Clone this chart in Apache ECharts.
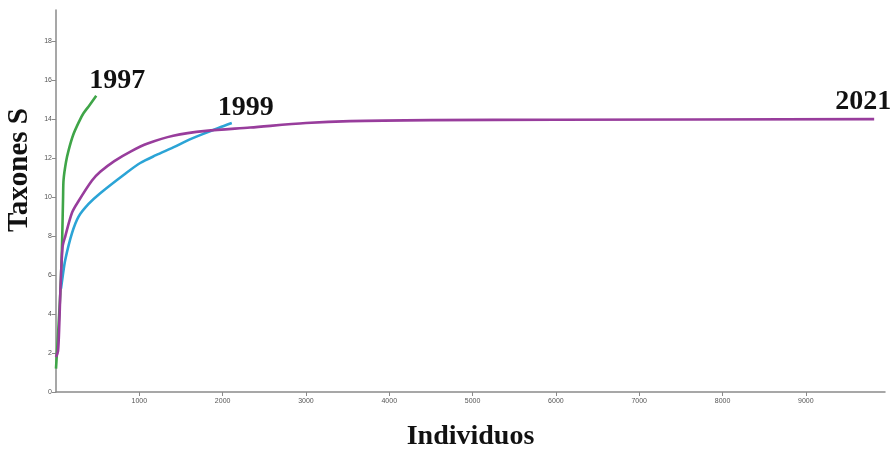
<!DOCTYPE html>
<html>
<head>
<meta charset="utf-8">
<script src="https://cdn.jsdelivr.net/npm/echarts@6/dist/echarts.min.js"></script>
<style>
html,body{margin:0;padding:0;background:#fff;}
#main{width:893px;height:452px;}
</style>
</head>
<body>
<div id="main"></div>
<script>
// curvas de acumulacion de taxones (individuos, taxones)
var x1997 = [0, 25, 52, 65, 75, 85, 91, 120, 151, 207, 280, 330, 400, 483];
var y1997 = [1.2, 3, 5.1, 6.5, 8, 10, 10.9, 11.8, 12.4, 13.2, 13.9, 14.3, 14.7, 15.2];

var x1999 = [60, 79, 112, 192, 271, 391, 531, 831, 1011, 1200, 1407, 1600, 1800, 1950, 2110];
var y1999 = [5.3, 5.9, 6.8, 8.15, 9.0, 9.65, 10.2, 11.2, 11.75, 12.15, 12.55, 12.95, 13.3, 13.55, 13.8];

var x2021 = [0, 24, 40, 52, 79, 112, 192, 271, 432, 531, 700, 900, 1100, 1407, 1800, 2330, 3000, 3530, 4500, 6000, 9820];
var y2021 = [1.8, 2.1, 3.5, 5.1, 7.45, 8.0, 9.2, 9.8, 10.85, 11.3, 11.85, 12.35, 12.75, 13.15, 13.4, 13.57, 13.8, 13.9, 13.95, 13.97, 14.0];

var yearLabels = ['1997', '1999', '2021'];

function pares(xs, ys) {
    var out = [];
    for (var i = 0; i < xs.length; i++) {
        out.push([xs[i], ys[i]]);
    }
    return out;
}

var myChart = echarts.init(document.getElementById('main'));

var tituloFont = {
    fontFamily: '"Liberation Serif", "Times New Roman", serif',
    fontWeight: 'bold',
    fontSize: 28,
    color: '#111'
};

function serie(name, data, color, offset) {
    return {
        name: name,
        type: 'line',
        data: data,
        symbol: 'none',
        smooth: 0.3,
        lineStyle: {color: color, width: 2.6},
        itemStyle: {color: color},
        endLabel: {
            show: true,
            formatter: name,
            distance: 0,
            offset: offset,
            fontFamily: tituloFont.fontFamily,
            fontWeight: 'bold',
            fontSize: 28,
            color: '#111'
        }
    };
}

var option = {
    animation: false,
    backgroundColor: '#fff',
    grid: {left: 56, right: 8, top: 10, bottom: 60, outerBoundsMode: 'none', containLabel: false},
    xAxis: {
        type: 'value',
        min: 0,
        max: 9950,
        interval: 1000,
        name: 'Individuos',
        nameLocation: 'middle',
        nameGap: 31,
        nameTextStyle: tituloFont,
        axisLine: {lineStyle: {color: '#8a8a8a', width: 1.5}},
        axisTick: {show: true, length: 4, lineStyle: {color: '#8a8a8a'}},
        axisLabel: {
            fontSize: 7, color: '#555', margin: 6,
            showMinLabel: false, showMaxLabel: false,
            formatter: function (v) { return String(v); }
        },
        splitLine: {show: false}
    },
    yAxis: {
        type: 'value',
        min: 0,
        max: 19.6,
        interval: 2,
        name: 'Taxones S',
        nameLocation: 'middle',
        nameGap: 22,
        nameRotate: 90,
        nameMoveOverlap: false,
        nameTextStyle: Object.assign({padding: [0, 0, 0, 62]}, tituloFont, {fontSize: 29}),
        axisLine: {show: true, lineStyle: {color: '#8a8a8a', width: 1.5}},
        axisTick: {show: true, length: 4, lineStyle: {color: '#8a8a8a'}},
        axisLabel: {fontSize: 7, color: '#555', margin: 4, showMaxLabel: false},
        splitLine: {show: false}
    },
    series: [
        serie(yearLabels[0], pares(x1997, y1997), '#3fa548', [-7, -15]),
        serie(yearLabels[1], pares(x1999, y1999), '#2ba4d6', [-14, -15]),
        serie(yearLabels[2], pares(x2021, y2021), '#983d9c', [-39, -17])
    ]
};

myChart.setOption(option);
</script>
</body>
</html>
